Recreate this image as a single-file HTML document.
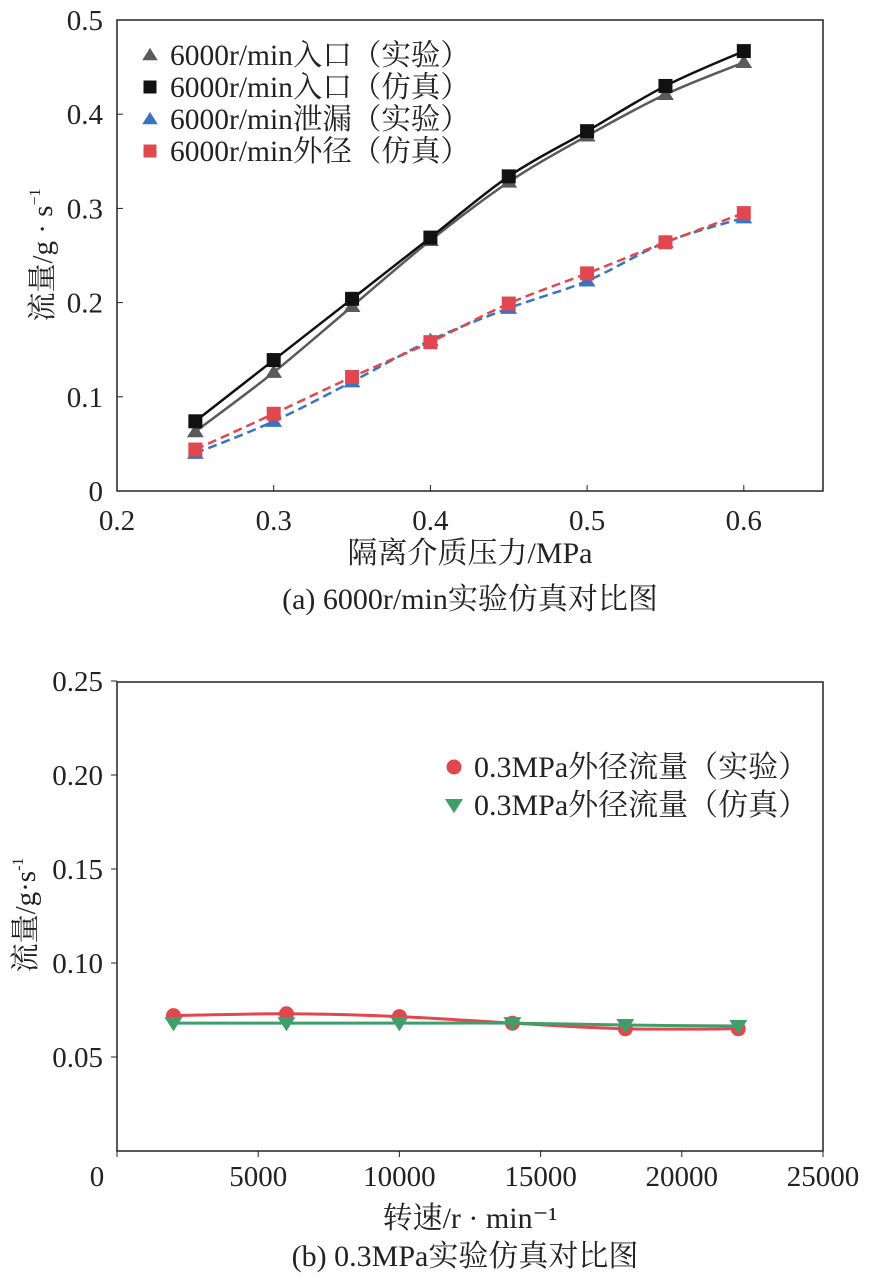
<!DOCTYPE html>
<html><head><meta charset="utf-8"><style>
body{margin:0;background:#fff;}
svg text{font-family:"Liberation Serif","Noto Serif CJK SC",serif;fill:#222;}
</style></head><body>
<svg id="s" width="870" height="1281" xmlns="http://www.w3.org/2000/svg"></svg>
<script>
// Chart (a)
const aX=[0.25,0.3,0.35,0.4,0.45,0.5,0.55,0.6];
const aInletExp=[0.063,0.126,0.196,0.266,0.328,0.377,0.421,0.455];
const aInletSim=[0.074,0.139,0.204,0.269,0.334,0.382,0.430,0.467];
const aLeakExp=[0.040,0.074,0.116,0.160,0.194,0.223,0.264,0.290];
const aOuterSim=[0.044,0.082,0.121,0.158,0.199,0.231,0.264,0.295];
const aXTicks=[0.2,0.3,0.4,0.5,0.6];
const aYTicks=[0,0.1,0.2,0.3,0.4,0.5];
// Chart (b)
const bX=[2000,6000,10000,14000,18000,22000];
const bExp=[0.072,0.073,0.0715,0.068,0.065,0.065];
const bSim=[0.068,0.068,0.068,0.068,0.067,0.0665];
const bXTicks=[0,5000,10000,15000,20000,25000];
const bYTicks=["0.05","0.10","0.15","0.20","0.25"];

const S=document.getElementById('s');const NS='http://www.w3.org/2000/svg';
function el(t,a,p){const e=document.createElementNS(NS,t);for(const k in a)e.setAttribute(k,a[k]);(p||S).appendChild(e);return e;}
function txt(x,y,s,size,anchor,name){const e=el('text',{x:x,y:y,'font-size':size,'text-anchor':anchor||'middle'});e.textContent=s;

return e;}
function smooth(pts){let d='M'+pts[0][0]+','+pts[0][1];for(let i=0;i<pts.length-1;i++){const p0=pts[i-1]||pts[i],p1=pts[i],p2=pts[i+1],p3=pts[i+2]||p2;
d+=` C${p1[0]+(p2[0]-p0[0])/6},${p1[1]+(p2[1]-p0[1])/6} ${p2[0]-(p3[0]-p1[0])/6},${p2[1]-(p3[1]-p1[1])/6} ${p2[0]},${p2[1]}`;}return d;}
function marker(type,x,y,c,sz){let e;
if(type==='sq')e=el('rect',{x:x-sz,y:y-sz,width:2*sz,height:2*sz,fill:c});
else if(type==='tri')e=el('polygon',{points:`${x},${y-sz*1.1} ${x-sz*1.2},${y+sz*0.8} ${x+sz*1.2},${y+sz*0.8}`,fill:c});
else if(type==='tridn')e=el('polygon',{points:`${x},${y+sz*1.1} ${x-sz*1.2},${y-sz*0.8} ${x+sz*1.2},${y-sz*0.8}`,fill:c});
else e=el('circle',{cx:x,cy:y,r:sz,fill:c});
return e;}

// ---- chart a
const ax=v=>117+(v-0.2)*1567, ay=v=>491-v*942;
el('rect',{x:117,y:20,width:706,height:471,fill:'none',stroke:'#222','stroke-width':1.5});
aXTicks.forEach(t=>{el('line',{x1:ax(t),x2:ax(t),y1:491,y2:485,stroke:'#222'});txt(ax(t),530,t.toFixed(1),29,'middle','x-tick-label-a');});
aYTicks.forEach(t=>{el('line',{x1:117,x2:123,y1:ay(t),y2:ay(t),stroke:'#222'});txt(103,ay(t)+10,t===0?'0':t.toFixed(1),29,'end','y-tick-label-a');});
const aSeries=[[aInletExp,'#5a5a5a','tri',false,'inlet-exp'],[aInletSim,'#111','sq',false,'inlet-sim'],[aLeakExp,'#3a74c0','tri',true,'leak-exp'],[aOuterSim,'#e0474f','sq',true,'outer-sim']];
aSeries.forEach(([arr,c,m,dash,n])=>{const pts=arr.map((v,i)=>[ax(aX[i]),ay(v)]);
const p=el('path',{d:smooth(pts),fill:'none',stroke:c,'stroke-width':2.5,'stroke-dasharray':dash?'9,5':'none'});


pts.forEach(q=>{const mk=marker(m,q[0],q[1],c,7);

});});
const aLeg=[['6000r/min入口（实验）','#5a5a5a','tri'],['6000r/min入口（仿真）','#111','sq'],['6000r/min泄漏（实验）','#3a74c0','tri'],['6000r/min外径（仿真）','#e0474f','sq']];
aLeg.forEach((l,i)=>{const y=55+i*32;const mk=marker(l[2],150,y,l[1],6.5);


txt(170,y+10,l[0],29.5,'start','legend-entry-a');});
const yt=el('text',{transform:'translate(52,255) rotate(-90)','font-size':29,'text-anchor':'middle'});yt.innerHTML='流量/g · s<tspan font-size="16" dy="-12">−1</tspan>';


txt(470,563,'隔离介质压力/MPa',30,'middle','x-axis-title-a');
txt(470,609,'(a) 6000r/min实验仿真对比图',30,'middle','caption-a');

// ---- chart b
const bx=v=>117+v*0.02824, by=v=>1151-v*1880;
el('rect',{x:117,y:682,width:706,height:469,fill:'none',stroke:'#222','stroke-width':1.5});
bXTicks.forEach(t=>{el('line',{x1:bx(t),x2:bx(t),y1:1151,y2:1157,stroke:'#222'});txt(t===0?97:bx(t),1186,String(t),29,'middle','x-tick-label-b');});
bYTicks.forEach(t=>{const v=parseFloat(t);el('line',{x1:111,x2:117,y1:by(v),y2:by(v),stroke:'#222'});txt(103,by(v)+10,t,29,'end','y-tick-label-b');});
[[bExp,'#e0474f','circ','exp'],[bSim,'#3f9e6a','tridn','sim']].forEach(([arr,c,m,n])=>{const pts=arr.map((v,i)=>[bx(bX[i]),by(v)]);
const p=el('path',{d:smooth(pts),fill:'none',stroke:c,'stroke-width':3});


pts.forEach(q=>{const mk=marker(m,q[0],q[1],c,7.5);

});});
[['0.3MPa外径流量（实验）','#e0474f','circ'],['0.3MPa外径流量（仿真）','#3f9e6a','tridn']].forEach((l,i)=>{const y=767+i*38;const mk=marker(l[2],454,y,l[1],7.5);


txt(474,y+10,l[0],30,'start','legend-entry-b');});
const yt2=el('text',{transform:'translate(35,915) rotate(-90)','font-size':29,'text-anchor':'middle'});yt2.innerHTML='流量/g·s<tspan font-size="16" dy="-12">-1</tspan>';


txt(470,1228,'转速/r · min⁻¹',30,'middle','x-axis-title-b');
txt(465,1266,'(b) 0.3MPa实验仿真对比图',30,'middle','caption-b');
</script>
</body></html>
